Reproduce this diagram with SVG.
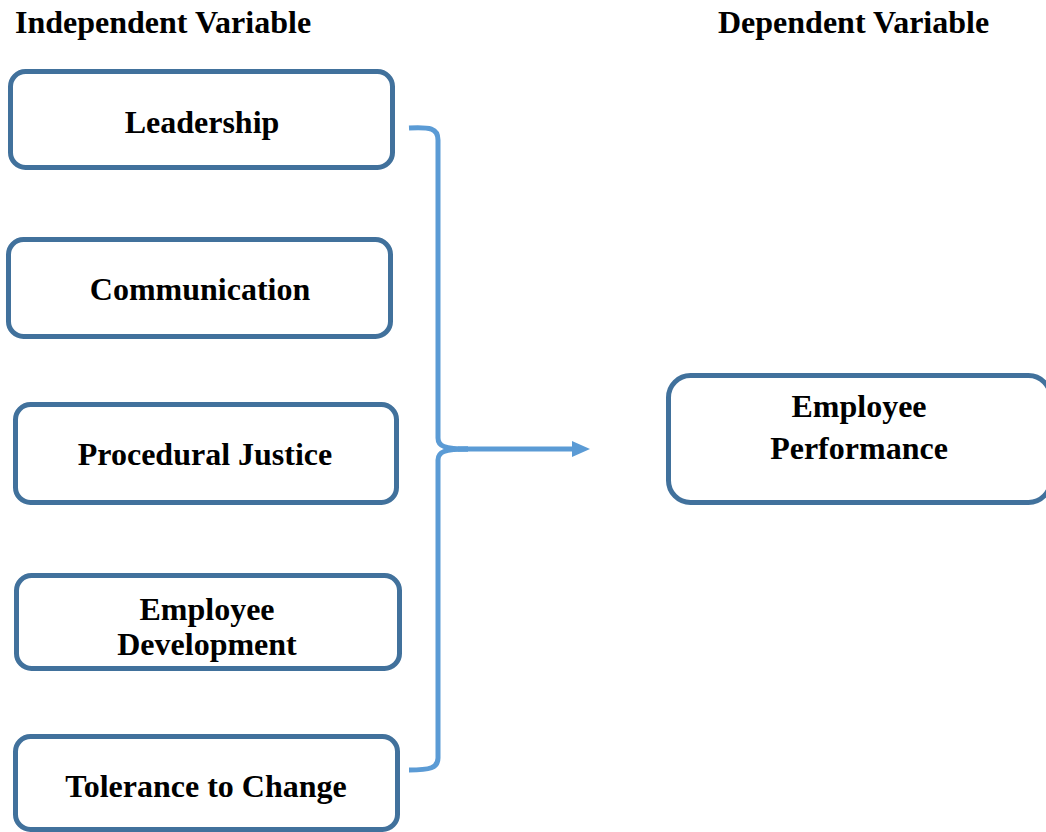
<svg xmlns="http://www.w3.org/2000/svg" width="1046" height="832" viewBox="0 0 1046 832">
  <style>
    .box { fill: #ffffff; stroke: #41719c; stroke-width: 5; }
    .lbl { font-family: "Liberation Serif", "Times New Roman", serif; font-weight: bold; font-size: 32px; fill: #000000; }
    .mid { text-anchor: middle; }
    .conn { fill: none; stroke: #5b9bd5; stroke-width: 5; }
  </style>
  <defs>
    <marker id="arrowHead" markerWidth="4" markerHeight="4" refX="0" refY="1.6" orient="auto" markerUnits="strokeWidth">
      <path d="M0,0 L3.6,1.6 L0,3.2 Z" fill="#5b9bd5"/>
    </marker>
  </defs>
  <rect width="1046" height="832" fill="#ffffff"/>

  <!-- column headings -->
  <text class="lbl" x="15" y="33">Independent Variable</text>
  <text class="lbl" x="718" y="33">Dependent Variable</text>

  <!-- independent variables -->
  <g id="leadership">
    <rect class="box" x="10.5" y="71.5" width="382" height="96" rx="15"/>
    <text class="lbl mid" x="202" y="133">Leadership</text>
  </g>
  <g id="communication">
    <rect class="box" x="8.5" y="239.5" width="382" height="97" rx="15"/>
    <text class="lbl mid" x="200" y="300">Communication</text>
  </g>
  <g id="procedural-justice">
    <rect class="box" x="15.5" y="404.5" width="381" height="98" rx="15"/>
    <text class="lbl mid" x="205" y="465">Procedural Justice</text>
  </g>
  <g id="employee-development">
    <rect class="box" x="16.5" y="575.5" width="383" height="93" rx="15"/>
    <text class="lbl mid" x="207" y="620">Employee</text>
    <text class="lbl mid" x="207" y="655">Development</text>
  </g>
  <g id="tolerance-to-change">
    <rect class="box" x="15.5" y="736.5" width="382" height="93" rx="15"/>
    <text class="lbl mid" x="206" y="797">Tolerance to Change</text>
  </g>

  <!-- dependent variable -->
  <g id="employee-performance">
    <rect class="box" x="668.5" y="375.5" width="382" height="127" rx="22"/>
    <text class="lbl mid" x="859" y="417">Employee</text>
    <text class="lbl mid" x="859" y="459">Performance</text>
  </g>

  <!-- brace gathering the independent variables and arrow to the outcome -->
  <g id="connectors">
    <path class="conn" d="M409,128 C430,127 438,128 438,140 L438,438 C438,446 444,449 468,449"/>
    <path class="conn" d="M468,449 C444,449 438,452 438,460 L438,758 C438,768 430,770 409,770"/>
    <path class="conn" d="M458,449 L572,449" marker-end="url(#arrowHead)"/>
  </g>
</svg>
